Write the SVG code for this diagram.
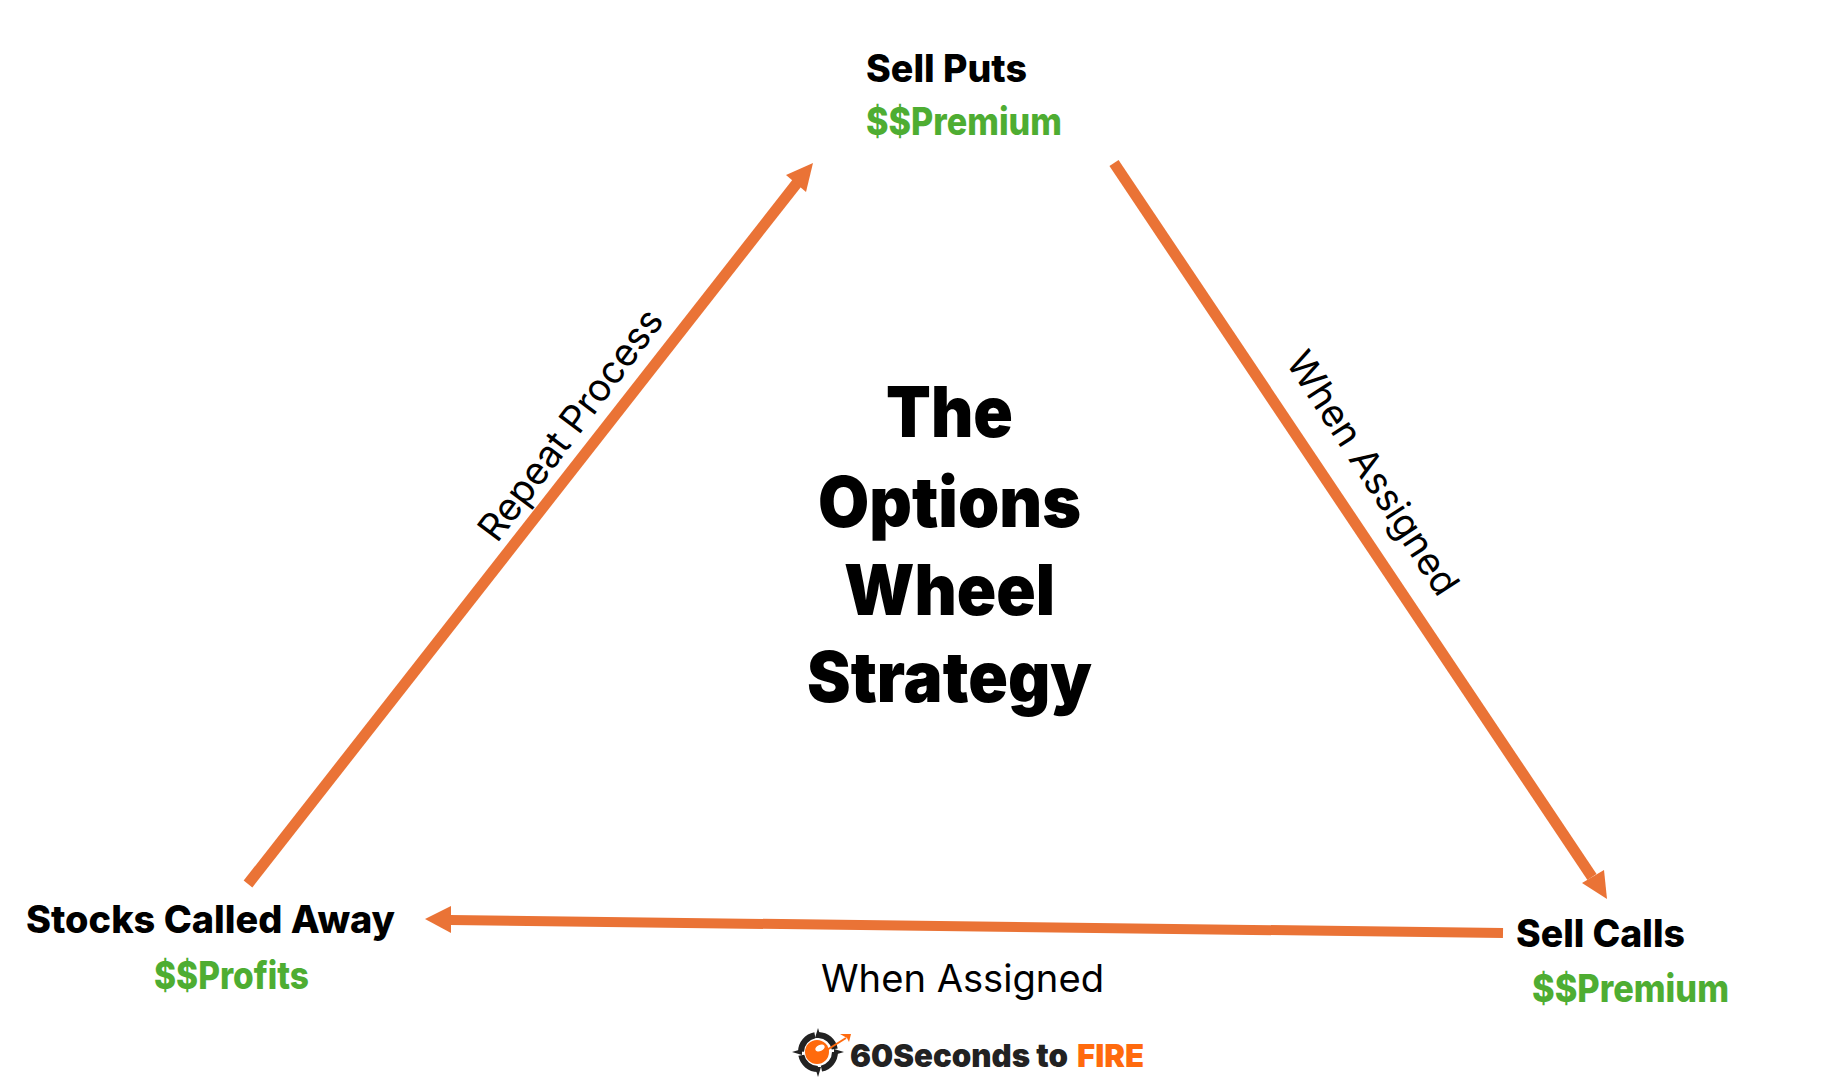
<svg xmlns="http://www.w3.org/2000/svg" width="1838" height="1078" viewBox="0 0 1838 1078">
<style>
text{font-family:"Inter","Lato","Liberation Sans",sans-serif;font-variant-ligatures:none}
.n{font-size:38px;font-weight:800;fill:#000}
.m{font-size:38px;font-weight:800;fill:#4ead32}
.t{font-size:70px;font-weight:900;fill:#000}
.l{font-size:38px;font-weight:400;fill:#000}
.c{stroke:#ea7336;fill:none}
.h{fill:#ea7336}
</style>
<rect width="1838" height="1078" fill="#fff"/>
<g id="connectors">
<path class="c" stroke-width="11" d="M248 884L797 183"/><polygon class="h" points="813,163 806,192 786,175"/>
<path class="c" stroke-width="11" d="M1114 163L1592 877"/><polygon class="h" points="1607,899 1582,883 1604,870"/>
<path class="c" stroke-width="10" d="M1503 933L450 920"/><polygon class="h" points="425,919 451,906 451,933"/>
</g>
<g id="sell-puts"><text class="n" x="866" y="82" textLength="161" lengthAdjust="spacingAndGlyphs">Sell Puts</text><text class="m" x="866" y="135" textLength="196" lengthAdjust="spacingAndGlyphs">$$Premium</text></g>
<g id="sell-calls"><text class="n" x="1516" y="947" textLength="169" lengthAdjust="spacingAndGlyphs">Sell Calls</text><text class="m" x="1532" y="1002" textLength="197" lengthAdjust="spacingAndGlyphs">$$Premium</text></g>
<g id="stocks-called-away"><text class="n" x="26" y="933" textLength="369" lengthAdjust="spacingAndGlyphs">Stocks Called Away</text><text class="m" x="154" y="989" textLength="155" lengthAdjust="spacingAndGlyphs">$$Profits</text></g>
<g id="title"><text class="t" x="886" y="437" textLength="127" lengthAdjust="spacingAndGlyphs">The</text><text class="t" x="818" y="527" textLength="263" lengthAdjust="spacingAndGlyphs">Options</text><text class="t" x="844" y="615" textLength="211" lengthAdjust="spacingAndGlyphs">Wheel</text><text class="t" x="807" y="702" textLength="285" lengthAdjust="spacingAndGlyphs">Strategy</text></g>
<g id="labels">
<text class="l" x="821" y="992" textLength="283" lengthAdjust="spacingAndGlyphs">When Assigned</text>
<text class="l" transform="translate(497 544) rotate(-53)" textLength="279" lengthAdjust="spacingAndGlyphs">Repeat Process</text>
<text class="l" transform="translate(1285 362) rotate(57)" textLength="282" lengthAdjust="spacingAndGlyphs">When Assigned</text>
</g>
<g id="logo">
<circle cx="818" cy="1052" r="17" fill="none" stroke="#222" stroke-width="6" stroke-dasharray="23 3.7"/>
<polygon points="818,1028 815,1038 821,1038" fill="#222"/><polygon points="818,1077 815,1067 821,1067" fill="#222"/><polygon points="792,1052 802,1049 802,1055" fill="#222"/><polygon points="844,1052 834,1049 834,1055" fill="#222"/>
<circle cx="817" cy="1052" r="12" fill="#ff6a0d"/>
<ellipse cx="820" cy="1048" rx="5" ry="3" fill="#fff" transform="rotate(-25 820 1048)"/>
<path d="M822 1053L846 1038" stroke="#ff6a0d" stroke-width="2" fill="none"/><path d="M840 1034L851 1034L849 1042L847 1038Z" fill="#ff6a0d"/>
<text x="850" y="1067" font-size="32" font-weight="900" fill="#222" textLength="218" lengthAdjust="spacingAndGlyphs">60Seconds to</text>
<text x="1077" y="1067" font-size="32" font-weight="900" fill="#ff6a0d" textLength="67" lengthAdjust="spacingAndGlyphs">FIRE</text>
</g>
</svg>
